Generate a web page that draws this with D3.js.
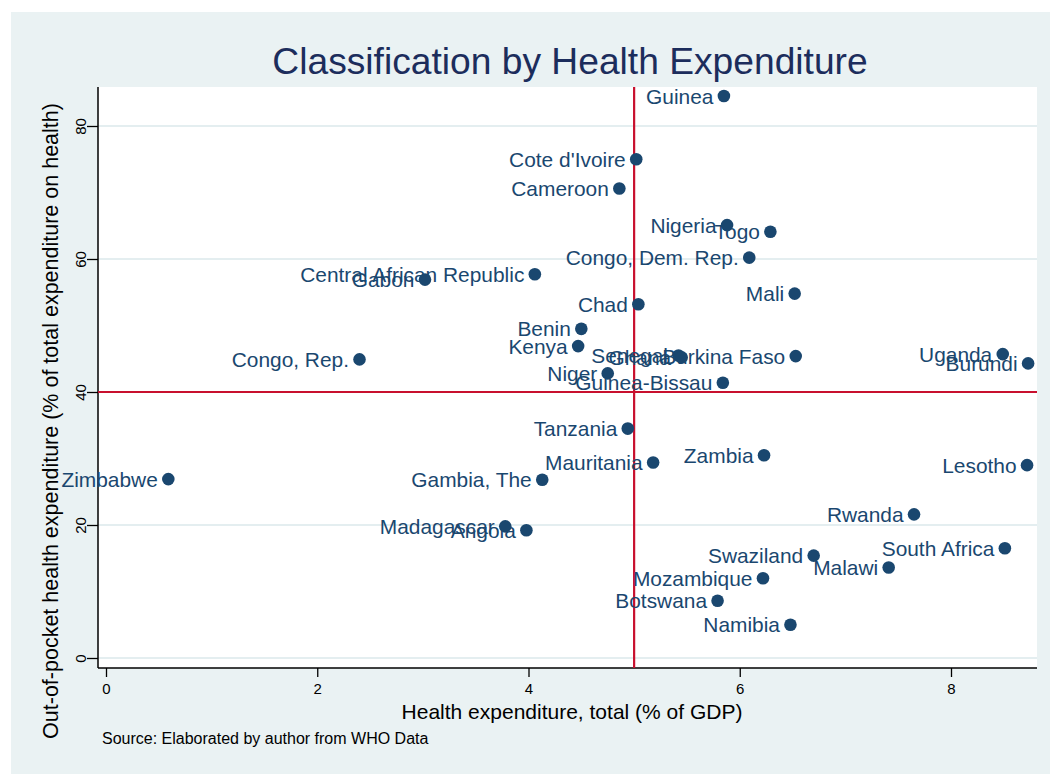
<!DOCTYPE html>
<html lang="en">
<head>
<meta charset="utf-8">
<title>Classification by Health Expenditure</title>
<script src="https://d3js.org/d3.v7.min.js"></script>
<style>
  body { margin: 0; background: #fff; }
  svg text { font-family: "Liberation Sans", Arial, sans-serif; }
</style>
</head>
<body>
<div id="chart"></div>
<script>
// data
var countries = ["Guinea", "Cote d'Ivoire", "Cameroon", "Nigeria", "Togo", "Congo, Dem. Rep.",
  "Central African Republic", "Gabon", "Chad", "Mali", "Benin", "Kenya", "Congo, Rep.",
  "Senegal", "Ghana", "Burkina Faso", "Niger", "Guinea-Bissau", "Uganda", "Burundi",
  "Tanzania", "Mauritania", "Zambia", "Lesotho", "Zimbabwe", "Gambia, The", "Rwanda",
  "Madagascar", "Angola", "South Africa", "Swaziland", "Malawi", "Mozambique", "Botswana", "Namibia"];
var healthExp = [5.85, 5.02, 4.86, 5.88, 6.29, 6.09,
  4.06, 3.02, 5.04, 6.52, 4.50, 4.47, 2.40,
  5.42, 5.45, 6.53, 4.75, 5.84, 8.49, 8.73,
  4.94, 5.18, 6.23, 8.72, 0.59, 4.13, 7.65,
  3.78, 3.98, 8.51, 6.70, 7.41, 6.22, 5.79, 6.48];
var oopExp = [84.5, 75.0, 70.6, 65.1, 64.1, 60.2,
  57.7, 56.9, 53.2, 54.8, 49.5, 46.9, 44.9,
  45.5, 45.2, 45.4, 42.8, 41.4, 45.7, 44.3,
  34.5, 29.4, 30.5, 29.0, 26.9, 26.8, 21.6,
  19.8, 19.2, 16.5, 15.4, 13.6, 12.0, 8.6, 5.0];
var xTicks = [0, 2, 4, 6, 8];
var yTicks = [0, 20, 40, 60, 80];
var xCut = 5, yCut = 40;

var W = 1050, H = 774;
var plot = {left: 98, right: 1037, top: 87, bottom: 668};
var navy = "#1a476f";

var data = countries.map(function(c, i) {
  return {name: c, x: healthExp[i], y: oopExp[i]};
});

var svg = d3.select("#chart").append("svg")
  .attr("width", W).attr("height", H);

// graph region
svg.append("rect").attr("x", 11).attr("y", 12)
  .attr("width", W - 11).attr("height", H - 12)
  .attr("fill", "#eaf2f3");
svg.append("rect").attr("x", plot.left).attr("y", plot.top)
  .attr("width", plot.right - plot.left).attr("height", plot.bottom - plot.top)
  .attr("fill", "#fff");

var x = d3.scaleLinear().domain([0, 8]).range([106, 951]);
var y = d3.scaleLinear().domain([0, 80]).range([658, 126]);

// grid
svg.append("g").selectAll("line").data(yTicks).enter().append("line")
  .attr("x1", plot.left).attr("x2", plot.right)
  .attr("y1", function(d) { return y(d); }).attr("y2", function(d) { return y(d); })
  .attr("stroke", "#e4eef0").attr("stroke-width", 2);

// axes
var xAxis = svg.append("g")
  .attr("transform", "translate(0," + plot.bottom + ")")
  .call(d3.axisBottom(x).tickValues(xTicks).tickSize(9).tickPadding(6).tickFormat(d3.format("d")));
xAxis.select(".domain").attr("d", "M" + plot.left + ",0H" + plot.right);
var yAxis = svg.append("g")
  .attr("transform", "translate(" + plot.left + ",0)")
  .call(d3.axisLeft(y).tickValues(yTicks).tickSize(11).tickFormat(d3.format("d")));
yAxis.select(".domain").attr("d", "M0," + plot.top + "V" + plot.bottom);
[xAxis, yAxis].forEach(function(a) {
  a.select(".domain").attr("stroke", "#000").attr("stroke-width", 1.5);
  a.selectAll(".tick line").attr("stroke", "#000").attr("stroke-width", 1.3);
  a.selectAll("text").attr("fill", "#000").style("font-size", "15px");
});
yAxis.selectAll(".tick text")
  .attr("x", null).attr("dy", null)
  .attr("text-anchor", "middle")
  .attr("transform", "translate(-12,0) rotate(-90)");

// reference lines
svg.append("line")
  .attr("x1", x(xCut)).attr("x2", x(xCut))
  .attr("y1", plot.top).attr("y2", plot.bottom)
  .attr("stroke", "#c8102e").attr("stroke-width", 2.2);
svg.append("line")
  .attr("x1", plot.left).attr("x2", plot.right)
  .attr("y1", y(yCut)).attr("y2", y(yCut))
  .attr("stroke", "#c8102e").attr("stroke-width", 2.2);

// points with labels on the left
var pts = svg.append("g").selectAll("g").data(data).enter().append("g");
pts.append("circle")
  .attr("cx", function(d) { return x(d.x); })
  .attr("cy", function(d) { return y(d.y); })
  .attr("r", 6.3)
  .attr("fill", navy);
pts.append("text")
  .attr("x", function(d) { return x(d.x) - 10.5; })
  .attr("y", function(d) { return y(d.y) + 7.5; })
  .attr("text-anchor", "end")
  .style("font-size", "20.9px")
  .attr("fill", navy)
  .text(function(d) { return d.name; });

// titles
svg.append("text")
  .attr("x", 570).attr("y", 74)
  .attr("text-anchor", "middle")
  .style("font-size", "37.2px")
  .attr("fill", "#1c2d5c")
  .text("Classification by Health Expenditure");

svg.append("text")
  .attr("x", 572).attr("y", 719)
  .attr("text-anchor", "middle")
  .style("font-size", "21px")
  .attr("fill", "#000")
  .text("Health expenditure, total (% of GDP)");

svg.append("text")
  .attr("transform", "translate(58,421) rotate(-90)")
  .attr("text-anchor", "middle")
  .style("font-size", "21.5px")
  .attr("fill", "#000")
  .text("Out-of-pocket health expenditure (% of total expenditure on health)");

svg.append("text")
  .attr("x", 102).attr("y", 744)
  .style("font-size", "16px")
  .attr("fill", "#000")
  .text("Source: Elaborated by author from WHO Data");
</script>
</body>
</html>
